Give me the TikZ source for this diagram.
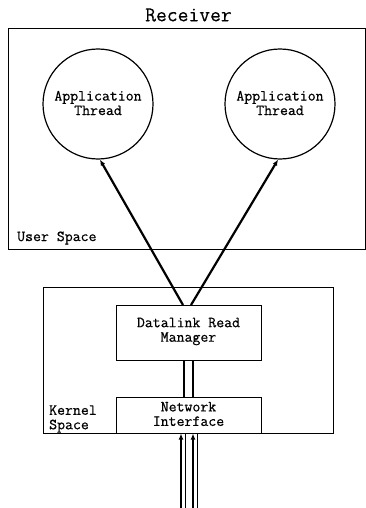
\documentclass[tikz,border=0pt]{standalone}
\usepackage{fontspec}
\newfontfamily\lmtt[FakeBold=0.6]{Latin Modern Mono}
\newfontfamily\lmttt[FakeBold=0.3]{Latin Modern Mono}
\usetikzlibrary{arrows.meta}
\begin{document}
\begin{tikzpicture}[x=1pt,y=-1pt,
  lbl/.style={font=\fontsize{15.4}{14.5}\selectfont\lmtt, align=center, inner sep=0pt},
  thr/.style={circle, draw, line width=1.2pt, minimum size=110pt, inner sep=0pt},
  boxx/.style={draw, line width=1pt, inner sep=0pt},
  arr/.style={line width=2.2pt, -{Latex[length=6pt,width=5pt]}},
  thin/.style={line width=0.9pt}]
\useasboundingbox (0,0) rectangle (366,508);
\node[font=\fontsize{21}{22}\selectfont\lmttt] (title) at (188.5,15) {Receiver};
\node[boxx, minimum width=357pt, minimum height=220pt] (user) at (186.5,139) {};
\node[thr] (c1) at (98,104) {};
\node[lbl] (c1t) at (98,103) {Application\\Thread};
\node[thr] (c2) at (280,104) {};
\node[lbl] (c2t) at (280,103) {Application\\Thread};
\node[lbl, anchor=west] (us) at (17,238) {User Space};
\node[boxx, minimum width=290pt, minimum height=146pt] (kern) at (188,360) {};
\node[boxx, minimum width=145pt, minimum height=55pt] (dl) at (188.5,332.5) {};
\node[lbl] (dlt) at (188.5,331.5) {Datalink Read\\Manager};
\node[boxx, minimum width=145pt, minimum height=36pt] (ni) at (188.5,415) {};
\node[lbl] (nit) at (188.5,414) {Network\\Interface};
\node[lbl, anchor=west, align=left] (ks) at (49,419) {Kernel\\Space};
\coordinate (a1) at (183,305);
\coordinate (a2) at (191,305);
\draw[arr] (a1) -- (c1.-88);
\draw[arr] (a2) -- (c2.-92);
\draw[line width=2pt] ([xshift=-4.5pt]dl.south) -- ([xshift=-4.5pt]ni.north);
\draw[line width=2pt] ([xshift=4.5pt]dl.south) -- ([xshift=4.5pt]ni.north);
\coordinate (b1) at (181,508);
\coordinate (b2) at (193,508);
\coordinate (b3) at (185,508);
\coordinate (b4) at (197,508);
\draw[arr] (b1) -- (ni.south -| b1);
\draw[arr] (b2) -- (ni.south -| b2);
\draw[thin] (b3) -- (ni.south -| b3);
\draw[thin] (b4) -- (ni.south -| b4);
\end{tikzpicture}
\end{document}
